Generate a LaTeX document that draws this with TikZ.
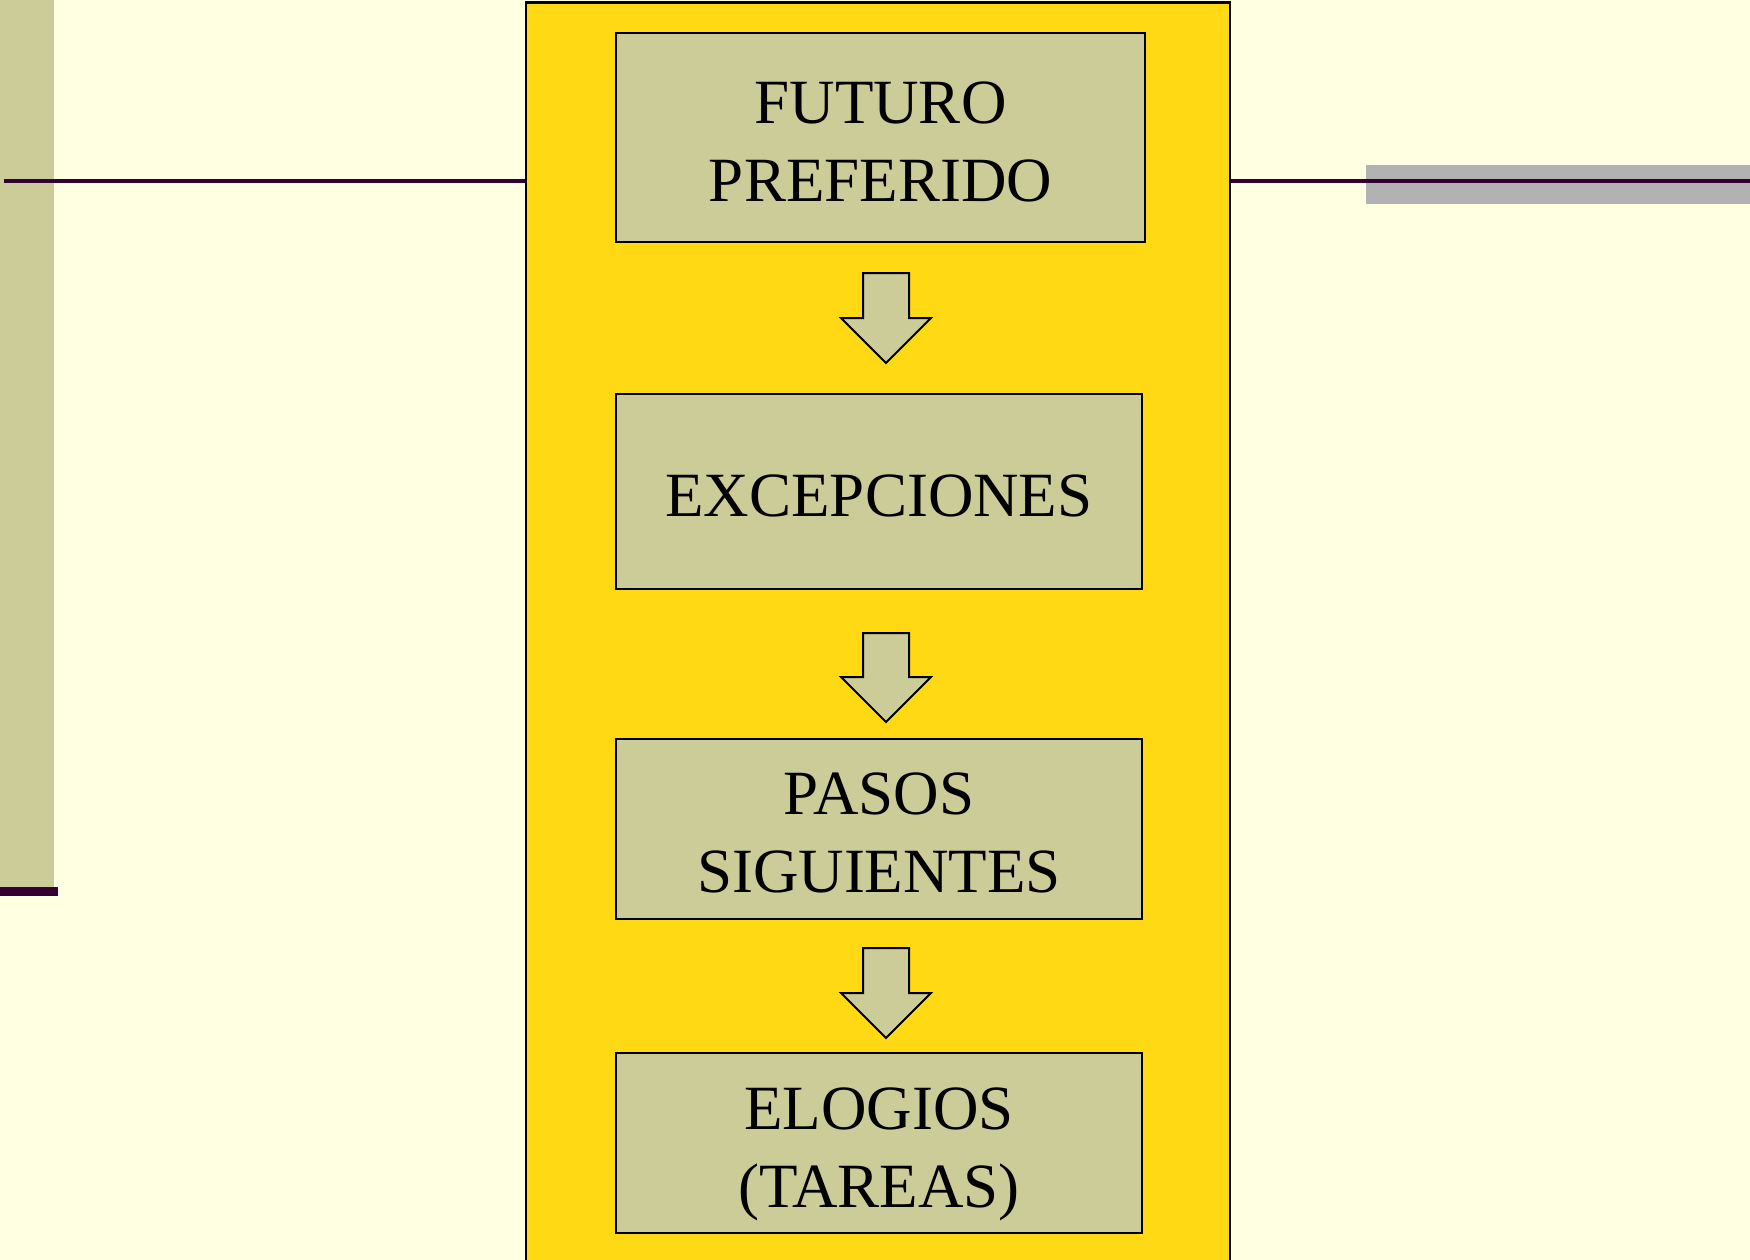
\documentclass[tikz,border=0pt]{standalone}
\usepackage{fontspec}
\setmainfont{Liberation Serif}
\definecolor{bgcream}{HTML}{FFFFE2}
\definecolor{olive}{HTML}{CCCC99}
\definecolor{gold}{HTML}{FFD913}
\definecolor{plum}{HTML}{330033}
\definecolor{greybar}{HTML}{B2B2B2}
\tikzset{
  stepbox/.style={draw=black, line width=2pt, fill=olive, anchor=north west, inner sep=0pt},
  steptext/.style={inner sep=0pt, align=center, font=\fontsize{63}{78}\selectfont},
  downarrow/.style={draw=black, line width=2pt, fill=olive, line join=miter},
  rule/.style={draw=plum, line width=4pt}
}
\begin{document}
\begin{tikzpicture}[x=1pt,y=-1pt]
\useasboundingbox (0,0) rectangle (1750,1260);
\fill[bgcream] (0,0) rectangle (1750,1260);
% left decoration
\fill[olive] (0,0) rectangle (54,887);
\fill[plum] (0,887) rectangle (58,896);
% grey bar on right
\fill[greybar] (1366,165) rectangle (1750,204);
% horizontal rules
\coordinate (lstart) at (4,181.5);
\coordinate (rend) at (1750,181.5);
\draw[rule] (lstart) -- (526,181.5);
\draw[rule] (1230,181.5) -- (rend);
% yellow panel
\draw[fill=gold, draw=black, line width=2.5pt] (526,2.5) rectangle (1230,1270);
% boxes
\node[stepbox, minimum width=529pt, minimum height=209pt] (b1) at (615,32) {};
\node[stepbox, minimum width=526pt, minimum height=195pt] (b2) at (615,393) {};
\node[stepbox, minimum width=526pt, minimum height=180pt] (b3) at (615,738) {};
\node[stepbox, minimum width=526pt, minimum height=180pt] (b4) at (615,1052) {};
\node[steptext] (t1) at ([yshift=-4pt]b1.center) {FUTURO\\PREFERIDO};
\node[steptext] (t2) at ([yshift=-4pt]b2.center) {EXCEPCIONES};
\node[steptext] (t3) at ([yshift=-4pt]b3.center) {PASOS\\SIGUIENTES};
\node[steptext] (t4) at ([yshift=-11pt]b4.center) {ELOGIOS\\(TAREAS)};
% block arrows
\draw[downarrow] (863,273) -- (909,273) -- (909,318) -- (931,318) -- (886,363) -- (841,318) -- (863,318) -- cycle;
\draw[downarrow] (863,633) -- (909,633) -- (909,677) -- (931,677) -- (886,722) -- (841,677) -- (863,677) -- cycle;
\draw[downarrow] (863,948) -- (909,948) -- (909,993) -- (931,993) -- (886,1038) -- (841,993) -- (863,993) -- cycle;
\end{tikzpicture}
\end{document}
